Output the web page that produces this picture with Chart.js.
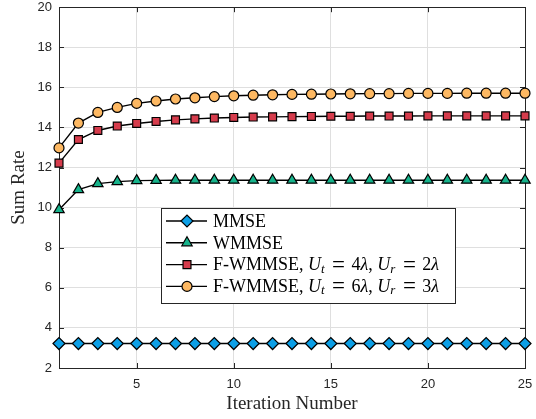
<!DOCTYPE html>
<html>
<head>
<meta charset="utf-8">
<script src="https://cdn.jsdelivr.net/npm/chart.js@4.4.1/dist/chart.umd.min.js"></script>
<style>
  body { margin: 0; background: #fff; }
  #wrap { width: 536px; height: 419px; }
</style>
</head>
<body>
<div id="wrap"><canvas id="chart" width="536" height="419"></canvas></div>
<script>
// data
const iterations = [1, 2, 3, 4, 5, 6, 7, 8, 9, 10, 11, 12, 13, 14, 15, 16, 17, 18, 19, 20, 21, 22, 23, 24, 25];
const mmse = [3.22, 3.22, 3.22, 3.22, 3.22, 3.22, 3.22, 3.22, 3.22, 3.22, 3.22, 3.22, 3.22,
              3.22, 3.22, 3.22, 3.22, 3.22, 3.22, 3.22, 3.22, 3.22, 3.22, 3.22, 3.22];
const wmmse = [9.9, 10.9, 11.2, 11.3, 11.35, 11.36, 11.37, 11.37, 11.37, 11.37, 11.37, 11.37, 11.37,
               11.37, 11.37, 11.37, 11.37, 11.37, 11.37, 11.37, 11.37, 11.37, 11.37, 11.37, 11.37];
const fwmmse4 = [12.22, 13.4, 13.85, 14.07, 14.2, 14.3, 14.38, 14.43, 14.47, 14.5, 14.52, 14.53, 14.54,
                 14.55, 14.56, 14.56, 14.57, 14.57, 14.57, 14.58, 14.58, 14.58, 14.58, 14.58, 14.58];
const fwmmse6 = [12.98, 14.22, 14.75, 15.0, 15.2, 15.32, 15.42, 15.48, 15.54, 15.58, 15.61, 15.63, 15.65,
                 15.66, 15.67, 15.68, 15.69, 15.69, 15.7, 15.7, 15.7, 15.71, 15.71, 15.71, 15.71];
const seriesLabels = ['MMSE', 'WMMSE', 'F-WMMSE, $U_t = 4\u03bb, U_r = 2\u03bb$', 'F-WMMSE, $U_t = 6\u03bb, U_r = 3\u03bb$'];
const xTicks = [5, 10, 15, 20, 25];
const yTicks = [2, 4, 6, 8, 10, 12, 14, 16, 18, 20];

const AXIS = '#262626';
const GRID = '#dfdfdf';
const SERIF = '"Liberation Serif", "DejaVu Serif", serif';
const SANS = '"Liberation Sans", Arial, sans-serif';

function series(label, values, color, shape, r) {
    return {
        label: label,
        data: values.map((v, i) => ({ x: iterations[i], y: v })),
        borderColor: '#000',
        borderWidth: 1.4,
        pointStyle: shape,
        pointRadius: r,
        pointBackgroundColor: color,
        pointBorderColor: '#000',
        pointBorderWidth: 1.2,
        clip: false
    };
}

// draws "text $math_sub$" with italic letters and subscripts
function drawRich(ctx, label, x, y, size) {
    const parts = label.split('$');
    let cx = x;
    ctx.textBaseline = 'middle';
    ctx.textAlign = 'left';
    parts.forEach((part, idx) => {
        if (idx % 2 === 0) {
            ctx.font = size + 'px ' + SERIF;
            ctx.fillText(part, cx, y);
            cx += ctx.measureText(part).width;
            return;
        }
        for (let i = 0; i < part.length; i++) {
            const ch = part[i];
            if (ch === ' ') continue;
            if (ch === '_') {
                const sub = part[++i];
                ctx.font = 'italic ' + Math.round(size * 0.72) + 'px ' + SERIF;
                ctx.fillText(sub, cx, y + size * 0.2);
                cx += ctx.measureText(sub).width + 1;
                continue;
            }
            const italic = /[A-Za-z\u03bb]/.test(ch);
            // the LaTeX equals sign is wider than the Times one
            const sz = ch === '=' ? Math.round(size * 1.25) : size;
            ctx.font = (italic ? 'italic ' : '') + sz + 'px ' + SERIF;
            if (ch === '=') cx += size * 0.36;
            ctx.fillText(ch, cx, y);
            cx += ctx.measureText(ch).width;
            if (ch === '=') cx += size * 0.36;
            if (ch === ',') cx += size * 0.25;
        }
    });
}

const framePlugin = {
    id: 'frame',
    beforeDatasetsDraw(chart) {
        const { ctx, chartArea: a, scales } = chart;
        ctx.save();
        ctx.strokeStyle = AXIS;
        ctx.lineWidth = 1;
        ctx.beginPath();
        yTicks.forEach(v => {
            const py = Math.round(scales.y.getPixelForValue(v)) + 0.5;
            ctx.moveTo(a.left, py); ctx.lineTo(a.left + 5, py);
            ctx.moveTo(a.right, py); ctx.lineTo(a.right - 5, py);
        });
        xTicks.forEach(v => {
            const px = Math.round(scales.x.getPixelForValue(v)) + 0.5;
            ctx.moveTo(px, a.bottom); ctx.lineTo(px, a.bottom - 5);
            ctx.moveTo(px, a.top); ctx.lineTo(px, a.top + 5);
        });
        ctx.stroke();
        ctx.strokeRect(Math.round(a.left) + 0.5, Math.round(a.top) + 0.5,
                       Math.round(a.right - a.left), Math.round(a.bottom - a.top));
        ctx.restore();
    },
    afterDraw(chart) {
        const ctx = chart.ctx;
        const box = { x: 161.5, y: 208.5, w: 294, h: 95 };
        ctx.save();
        ctx.fillStyle = '#fff';
        ctx.fillRect(box.x, box.y, box.w, box.h);
        ctx.strokeStyle = AXIS;
        ctx.lineWidth = 1;
        ctx.strokeRect(box.x, box.y, box.w, box.h);
        chart.data.datasets.forEach((ds, i) => {
            const cy = 221 + i * 21.8;
            ctx.strokeStyle = '#000';
            ctx.lineWidth = 1.4;
            ctx.beginPath();
            ctx.moveTo(166, cy); ctx.lineTo(207, cy);
            ctx.stroke();
            ctx.fillStyle = ds.pointBackgroundColor;
            ctx.strokeStyle = '#000';
            ctx.lineWidth = 1.2;
            Chart.helpers.drawPoint(ctx, { pointStyle: ds.pointStyle, radius: ds.pointRadius, borderWidth: 1.2 }, 187, cy);
            ctx.fillStyle = '#000';
            drawRich(ctx, ds.label, 213, cy + 1, 18);
        });
        ctx.restore();
    }
};

new Chart(document.getElementById('chart'), {
    type: 'line',
    data: {
        datasets: [
            series(seriesLabels[0], mmse, '#0c9fe6', 'rectRot', 6),
            series(seriesLabels[1], wmmse, '#17b38b', 'triangle', 6),
            series(seriesLabels[2], fwmmse4, '#d63c4c', 'rect', 5.6),
            series(seriesLabels[3], fwmmse6, '#fdb862', 'circle', 5)
        ]
    },
    options: {
        responsive: false,
        animation: false,
        layout: { padding: { left: 0, right: 11, top: 4, bottom: 0 } },
        plugins: { legend: { display: false }, tooltip: { enabled: false } },
        scales: {
            x: {
                type: 'linear',
                min: 1,
                max: 25,
                afterBuildTicks: s => { s.ticks = xTicks.map(v => ({ value: v })); },
                afterFit: s => { s.height = 51; s.paddingLeft = 0; s.paddingRight = 0; },
                ticks: { color: AXIS, font: { family: SANS, size: 13 }, padding: 9, maxRotation: 0 },
                grid: { color: GRID, drawTicks: false },
                border: { display: false },
                title: { display: true, text: 'Iteration Number', color: AXIS,
                         font: { family: SERIF, size: 19 }, padding: { top: 0, bottom: 4 } }
            },
            y: {
                min: 2,
                max: 20,
                afterBuildTicks: s => { s.ticks = yTicks.map(v => ({ value: v })); },
                afterFit: s => { s.width = 59; s.paddingTop = 0; s.paddingBottom = 0; },
                ticks: { color: AXIS, font: { family: SANS, size: 13 }, padding: 7 },
                grid: { color: GRID, drawTicks: false },
                border: { display: false },
                title: { display: true, text: 'Sum Rate', color: AXIS,
                         font: { family: SERIF, size: 19 }, padding: { top: 8, bottom: 0 } }
            }
        }
    },
    plugins: [framePlugin]
});
</script>
</body>
</html>
